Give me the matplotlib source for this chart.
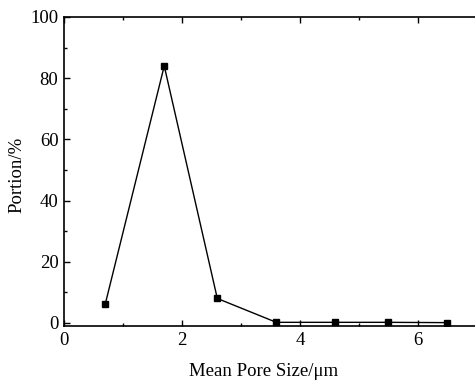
import matplotlib
matplotlib.use("Agg")
import matplotlib.pyplot as plt
from matplotlib.ticker import MultipleLocator

# pore size distribution
pore_size = [0.7, 1.7, 2.6, 3.6, 4.6, 5.5, 6.5]
portion = [6.2, 84.0, 8.0, 0.2, 0.2, 0.2, 0.1]

plt.rcParams["font.family"] = ["Liberation Serif", "DejaVu Serif"]
plt.rcParams["font.size"] = 13.5

fig = plt.figure(figsize=(4.75, 3.85), dpi=100)
ax = fig.add_axes([64 / 475, 1 - 326 / 385, 1 - 64 / 475, (326 - 17) / 385])

ax.plot(pore_size, portion, color="black", linewidth=1.0,
        marker="s", markersize=5, markerfacecolor="black", markeredgecolor="black")

ax.set_xlim(0, 6.97)
ax.set_ylim(-1, 100)
ax.xaxis.set_major_locator(MultipleLocator(2))
ax.xaxis.set_minor_locator(MultipleLocator(1))
ax.yaxis.set_major_locator(MultipleLocator(20))
ax.yaxis.set_minor_locator(MultipleLocator(10))

ax.spines["right"].set_visible(False)
for side in ["left", "bottom", "top"]:
    ax.spines[side].set_linewidth(1.2)

ax.tick_params(which="both", direction="in", top=True, right=False, width=1.0)
ax.tick_params(which="major", length=4, labelsize=13.5, pad=4)
ax.tick_params(which="minor", length=2.5)

ax.set_xlabel("Mean Pore Size/\u03bcm", fontsize=13.5)
ax.set_ylabel("Portion/%", fontsize=13.5)
ax.xaxis.set_label_coords((263.5 - 64) / 411, -0.12)
ax.yaxis.set_label_coords(-0.095, 0.49)

fig.savefig("out.png", dpi=100)
